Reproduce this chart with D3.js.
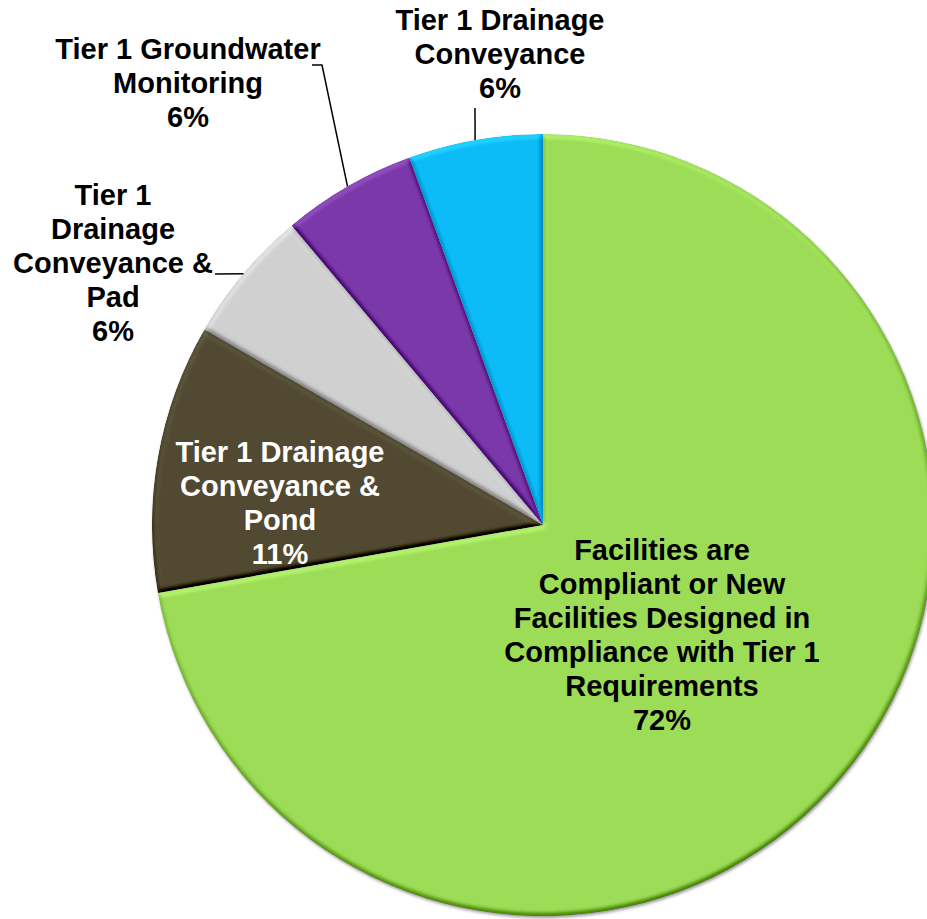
<!DOCTYPE html>
<html>
<head>
<meta charset="utf-8">
<script src="https://cdn.jsdelivr.net/npm/d3@7"></script>
<style>
  html, body { margin: 0; padding: 0; background: #fff; overflow: hidden; }
  svg { display: block; }
  text { font-family: "Liberation Sans", Arial, sans-serif; font-weight: bold; }
</style>
</head>
<body>
<svg id="chart" width="927" height="919"></svg>
<script>
// Facility status categories, in clockwise order from 12 o'clock
const categories = [
  "Facilities are Compliant or New Facilities Designed in Compliance with Tier 1 Requirements",
  "Tier 1 Drainage Conveyance & Pond",
  "Tier 1 Drainage Conveyance & Pad",
  "Tier 1 Groundwater Monitoring",
  "Tier 1 Drainage Conveyance"
];
// Number of facilities in each category
const facilityCounts = [13, 2, 1, 1, 1];
// Wrapped label text for each category (percentage line added below)
const labelLines = [
  ["Facilities are", "Compliant or New", "Facilities Designed in", "Compliance with Tier 1", "Requirements"],
  ["Tier 1 Drainage", "Conveyance &", "Pond"],
  ["Tier 1", "Drainage", "Conveyance &", "Pad"],
  ["Tier 1 Groundwater", "Monitoring"],
  ["Tier 1 Drainage", "Conveyance"]
];
const sliceColors = ["#9ddc56", "#514a31", "#d0d0d0", "#7a38a9", "#0bbcf6"];

// Layout
const cx = 543, cy = 525, radius = 391;
const lineHeight = 34;
const labelLayout = [
  { x: 662, y: 560, fill: "#000", leader: null },
  { x: 280, y: 462, fill: "#fff", leader: null },
  { x: 113, y: 205, fill: "#000", leader: [[215, 274]] },
  { x: 188, y: 59,  fill: "#000", leader: [[312, 65], [322, 65]] },
  { x: 500, y: 30,  fill: "#000", leader: [[475, 108]] }
];

const svg = d3.select("#chart");
const defs = svg.append("defs");

// Soft bevel: lighting on the blurred slice alpha, neutral on flat areas
const elev = 55;
const bevel = defs.append("filter").attr("id", "bevel")
  .attr("x", "-5%").attr("y", "-5%").attr("width", "110%").attr("height", "110%")
  .attr("color-interpolation-filters", "sRGB");
bevel.append("feGaussianBlur").attr("in", "SourceAlpha").attr("stdDeviation", 2.5).attr("result", "b");
const diff = bevel.append("feDiffuseLighting").attr("in", "b").attr("surfaceScale", 4)
  .attr("diffuseConstant", 1).attr("lighting-color", "#fff").attr("result", "d");
diff.append("feDistantLight").attr("azimuth", 250).attr("elevation", elev);
bevel.append("feComposite").attr("in", "SourceGraphic").attr("in2", "d")
  .attr("operator", "arithmetic").attr("k1", 0).attr("k2", 1).attr("k3", 0.45)
  .attr("k4", -0.45 * Math.sin(elev * Math.PI / 180)).attr("result", "lit");
bevel.append("feComposite").attr("in", "lit").attr("in2", "SourceAlpha").attr("operator", "in");

// Drop shadow under the whole pie
const shadow = defs.append("filter").attr("id", "shadow")
  .attr("x", "-10%").attr("y", "-10%").attr("width", "120%").attr("height", "120%");
shadow.append("feDropShadow").attr("dx", 1).attr("dy", 2).attr("stdDeviation", 1.5)
  .attr("flood-color", "#000").attr("flood-opacity", 0.4);

const total = d3.sum(facilityCounts);
const data = categories.map((c, i) => ({ category: c, value: facilityCounts[i], i }));

const pie = d3.pie().value(d => d.value).sort(null);
const arcs = pie(data);
const arc = d3.arc().innerRadius(0).outerRadius(radius);
const edgeArc = d3.arc().innerRadius(radius).outerRadius(radius);

const g = svg.append("g").attr("transform", `translate(${cx},${cy})`);
const slices = g.append("g").attr("filter", "url(#shadow)");
slices.selectAll("path")
  .data(arcs)
  .join("path")
  .attr("d", arc)
  .attr("fill", d => sliceColors[d.data.i])
  .attr("filter", "url(#bevel)");

// Leader lines from label to the slice's outer edge
const lineGen = d3.line();
arcs.forEach(d => {
  const lay = labelLayout[d.data.i];
  if (!lay.leader) return;
  const [ex, ey] = edgeArc.centroid(d);
  const pts = lay.leader.concat([[cx + ex, cy + ey]]);
  svg.append("path")
    .attr("d", lineGen(pts))
    .attr("fill", "none")
    .attr("stroke", "#000")
    .attr("stroke-width", 1.5);
});

// Labels
arcs.forEach(d => {
  const lay = labelLayout[d.data.i];
  const pct = Math.round(d.data.value / total * 100) + "%";
  const lines = labelLines[d.data.i].concat([pct]);
  const t = svg.append("text")
    .attr("text-anchor", "middle")
    .attr("font-size", 29)
    .attr("fill", lay.fill);
  lines.forEach((ln, k) => {
    t.append("tspan").attr("x", lay.x).attr("y", lay.y + k * lineHeight).text(ln);
  });
});
</script>
</body>
</html>
